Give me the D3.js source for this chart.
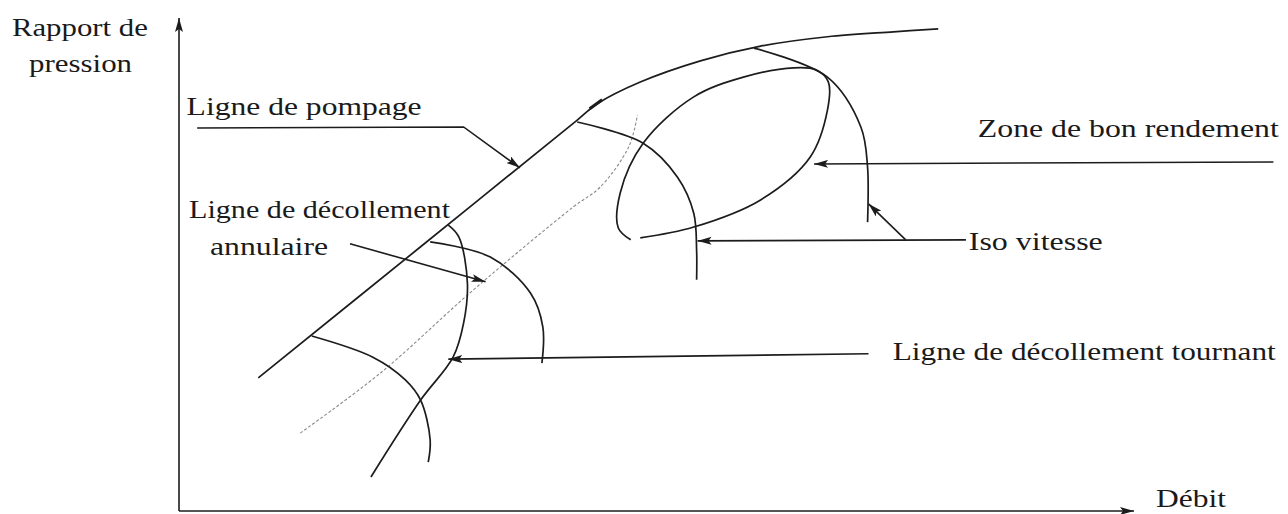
<!DOCTYPE html>
<html>
<head>
<meta charset="utf-8">
<script src="https://cdn.jsdelivr.net/npm/d3@7"></script>
<style>
  body { margin: 0; background: #fff; }
</style>
</head>
<body>
<div id="chart"></div>
<script>
// diagram curves, in diagram units (debit 0-100, rapport de pression 0-100)
const surgeLine = [[8.3,27.0],[25.3,53.6],[41.7,79.3],[43.8,82.6],[48.3,87.0],[54.6,91.3],[60.9,94.3],[67.9,96.2],[74.8,97.2],[79.5,97.8]];
const operatingLine = [[12.7,15.8],[21.1,28.0],[30.8,44.8],[41.3,61.7],[44.1,65.7],[47.1,73.9],[48.0,80.3]];
const rotatingStall = [[28.2,58.0],[29.3,55.6],[30.2,46.2],[29.8,38.1],[28.7,31.2],[25.3,22.5],[20.1,6.9]];
const isoSpeed1 = [[13.9,35.5],[20.3,31.2],[23.7,26.6],[25.3,22.5],[26.3,14.4],[26.1,9.9]];
const isoSpeed2 = [[26.3,54.6],[32.6,51.5],[36.8,44.2],[38.1,37.3],[38.0,30.0]];
const isoSpeed3 = [[41.7,78.9],[48.6,74.6],[52.2,67.7],[53.9,60.4],[54.2,52.9],[54.2,46.9]];
const isoSpeed4 = [[60.2,93.9],[67.9,88.0],[71.4,77.9],[72.1,69.8],[72.1,58.6]];
const goodEfficiency = [[48.3,55.4],[53.9,57.6],[60.9,63.1],[66.1,71.8],[67.9,81.3],[68.0,87.0],[66.7,89.5],[64.4,89.9],[59.1,88.0],[53.9,84.0],[48.6,74.6],[46.2,64.5],[46.0,57.4],[47.3,55.0]];

// annotation arrows (last point = arrow tip)
const arrows = [
  [[1.9,77.7],[29.8,77.9],[35.7,69.6]],     // ligne de pompage
  [[17.9,54.2],[32.1,46.5]],                // decollement annulaire
  [[114.6,70.8],[66.5,70.4]],               // zone de bon rendement
  [[82.4,55.0],[54.3,54.8]],                // iso vitesse
  [[76.1,55.0],[72.2,62.3]],                // iso vitesse
  [[72.2,31.9],[28.2,30.8]]                 // decollement tournant
];

// labels: text, x start, baseline, stretched width (px)
const labelText = ["Rapport de", "pression", "Ligne de pompage", "Ligne de décollement", "annulaire",
  "Zone de bon rendement", "Iso vitesse", "Ligne de décollement tournant", "Débit"];
const labelX = [-17.5, -15.7, 0.8, 1.05, 3.25, 83.65, 82.7, 74.74, 102.3];
const labelY = [96.4, 89.05, 80.3, 59.4, 51.9, 75.9, 52.9, 30.6, 0.8];
const labelWidth = [136, 103, 235, 261, 118, 301, 134, 383, 70];

const width = 1288, height = 514;
const ink = "#1c1c1c";

const svg = d3.select("#chart")
  .append("svg")
    .attr("width", width)
    .attr("height", height);

const x = d3.scaleLinear().domain([0, 100]).range([179, 1134]);
const y = d3.scaleLinear().domain([0, 100]).range([511, 18]);

// arrow head
svg.append("defs").append("marker")
    .attr("id", "arrow")
    .attr("viewBox", "0 0 14 8")
    .attr("refX", 14)
    .attr("refY", 4)
    .attr("markerWidth", 14)
    .attr("markerHeight", 8)
    .attr("markerUnits", "userSpaceOnUse")
    .attr("orient", "auto")
  .append("path")
    .attr("d", "M0,0L14,4L0,8L3,4Z")
    .attr("fill", ink);

// axes
svg.append("line")
    .attr("x1", x(0)).attr("y1", y(0))
    .attr("x2", x(0)).attr("y2", y(100))
    .attr("stroke", ink).attr("stroke-width", 1.6)
    .attr("marker-end", "url(#arrow)");
svg.append("line")
    .attr("x1", x(0)).attr("y1", y(0))
    .attr("x2", x(100)).attr("y2", y(0))
    .attr("stroke", ink).attr("stroke-width", 1.6)
    .attr("marker-end", "url(#arrow)");

const curve = d3.line()
  .x(d => x(d[0]))
  .y(d => y(d[1]))
  .curve(d3.curveCatmullRom.alpha(0.5));

// dotted operating line
svg.append("path")
    .attr("d", curve(operatingLine))
    .attr("fill", "none")
    .attr("stroke", "#8a8a8a")
    .attr("stroke-width", 1.1)
    .attr("stroke-dasharray", "3,2");

const solidCurves = [surgeLine, rotatingStall, isoSpeed1, isoSpeed2, isoSpeed3, isoSpeed4, goodEfficiency];
svg.append("g")
  .selectAll("path")
  .data(solidCurves)
  .join("path")
    .attr("d", d => curve(d))
    .attr("fill", "none")
    .attr("stroke", ink)
    .attr("stroke-width", 1.7);

// small hash mark on the surge line
svg.append("line")
    .attr("x1", x(43.0)).attr("y1", y(81.6))
    .attr("x2", x(44.3)).attr("y2", y(83.4))
    .attr("stroke", ink).attr("stroke-width", 3);

const straight = d3.line().x(d => x(d[0])).y(d => y(d[1]));
svg.append("g")
  .selectAll("path")
  .data(arrows)
  .join("path")
    .attr("d", d => straight(d))
    .attr("fill", "none")
    .attr("stroke", ink)
    .attr("stroke-width", 1.6)
    .attr("marker-end", "url(#arrow)");

svg.append("g")
  .selectAll("text")
  .data(labelText)
  .join("text")
    .attr("x", (d, i) => x(labelX[i]))
    .attr("y", (d, i) => y(labelY[i]))
    .attr("font-family", "'Liberation Serif', Tinos, 'Times New Roman', Times, serif")
    .attr("font-size", 26)
    .attr("fill", "#1a1a1a")
    .attr("textLength", (d, i) => labelWidth[i])
    .attr("lengthAdjust", "spacingAndGlyphs")
    .text(d => d);
</script>
</body>
</html>
